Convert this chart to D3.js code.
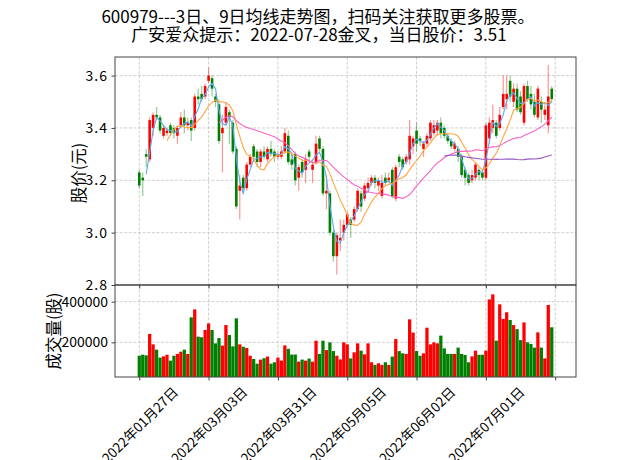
<!DOCTYPE html>
<html><head><meta charset="utf-8">
<script src="https://cdn.jsdelivr.net/npm/d3@7"></script>
<style>
body{margin:0;background:#fff;}
svg text{font-family:"Noto Sans CJK SC","DejaVu Sans",sans-serif;fill:#000;}
</style>
</head><body>
<svg id="c" width="640" height="460"></svg>
<script>
// ---------- data ----------
const titleLines = ["600979---3日、9日均线走势图，扫码关注获取更多股票。", "广安爱众提示：2022-07-28金叉，当日股价：3.51"];
const priceLabel = "股价(元)";
const volumeLabel = "成交量(股)";
const tickIndex = [0, 20, 40, 60, 80, 100, 120];
const tickLabels = ["2022年01月27日", "2022年03月03日", "2022年03月31日", "2022年05月05日", "2022年06月02日", "2022年07月01日", ""];
const priceTicks = [2.8, 3.0, 3.2, 3.4, 3.6];
const volumeTicks = [200000, 400000];
const maWindows = [3, 9, 24, 89];
const maColors = ["#5aaaf2", "#ffa53f", "#f564c4", "#9458c2"];

const opens = [3.23,3.21,3.30,3.28,3.40,3.45,3.44,3.37,3.38,3.41,3.40,3.37,3.41,3.44,3.41,3.43,3.40,3.52,3.53,3.52,
3.58,3.59,3.52,3.49,3.38,3.42,3.46,3.42,3.32,3.16,3.21,3.17,3.26,3.33,3.31,3.27,3.31,3.28,3.32,3.31,
3.29,3.29,3.31,3.37,3.28,3.30,3.21,3.27,3.24,3.31,3.24,3.27,3.36,3.32,3.15,3.15,3.00,2.91,2.97,3.00,
3.03,3.05,3.05,3.09,3.15,3.13,3.17,3.19,3.21,3.18,3.14,3.21,3.20,3.24,3.13,3.29,3.28,3.27,3.28,3.33,
3.39,3.36,3.32,3.34,3.36,3.38,3.39,3.42,3.40,3.37,3.35,3.32,3.32,3.29,3.24,3.22,3.20,3.21,3.24,3.23,
3.21,3.36,3.40,3.42,3.40,3.48,3.51,3.58,3.50,3.55,3.52,3.42,3.56,3.53,3.50,3.44,3.50,3.45,3.41,3.55];
const highs = [3.24,3.23,3.32,3.44,3.46,3.48,3.45,3.41,3.40,3.42,3.41,3.41,3.46,3.47,3.44,3.44,3.53,3.55,3.56,3.57,
3.63,3.60,3.53,3.51,3.45,3.50,3.47,3.43,3.33,3.22,3.22,3.27,3.30,3.34,3.32,3.32,3.33,3.33,3.35,3.32,
3.31,3.33,3.40,3.39,3.30,3.31,3.26,3.28,3.30,3.32,3.28,3.37,3.37,3.33,3.22,3.16,3.01,3.00,3.05,3.05,
3.08,3.06,3.10,3.17,3.16,3.19,3.21,3.22,3.22,3.21,3.22,3.23,3.23,3.25,3.26,3.30,3.29,3.30,3.43,3.37,
3.42,3.37,3.35,3.38,3.43,3.43,3.43,3.44,3.41,3.38,3.36,3.35,3.33,3.30,3.25,3.23,3.24,3.27,3.25,3.24,
3.42,3.44,3.49,3.43,3.48,3.60,3.60,3.60,3.57,3.57,3.54,3.57,3.58,3.56,3.53,3.56,3.52,3.49,3.64,3.56];
const lows = [3.17,3.14,3.25,3.27,3.37,3.43,3.38,3.36,3.37,3.37,3.36,3.34,3.40,3.38,3.39,3.35,3.39,3.49,3.50,3.51,
3.57,3.52,3.48,3.34,3.23,3.41,3.34,3.30,3.09,3.05,3.15,3.16,3.25,3.27,3.25,3.25,3.28,3.27,3.29,3.27,
3.28,3.28,3.30,3.26,3.24,3.18,3.16,3.21,3.19,3.27,3.19,3.26,3.31,3.14,3.09,2.99,2.89,2.84,2.93,2.97,
3.02,2.98,3.04,3.08,3.08,3.12,3.16,3.18,3.17,3.16,3.13,3.18,3.19,3.13,3.12,3.25,3.24,3.26,3.26,3.30,
3.31,3.33,3.29,3.33,3.35,3.37,3.37,3.36,3.36,3.34,3.32,3.31,3.27,3.21,3.18,3.18,3.19,3.20,3.20,3.20,
3.20,3.34,3.38,3.36,3.39,3.47,3.47,3.50,3.48,3.46,3.45,3.41,3.50,3.47,3.44,3.43,3.42,3.43,3.38,3.50];
const closes = [3.18,3.20,3.29,3.43,3.45,3.44,3.39,3.40,3.39,3.38,3.38,3.40,3.44,3.41,3.42,3.39,3.52,3.51,3.51,3.56,
3.60,3.55,3.50,3.35,3.40,3.48,3.44,3.31,3.10,3.18,3.17,3.26,3.29,3.29,3.27,3.31,3.29,3.32,3.30,3.29,
3.30,3.31,3.38,3.27,3.26,3.20,3.25,3.23,3.28,3.29,3.26,3.34,3.32,3.15,3.16,3.00,2.91,2.99,2.98,3.03,
3.07,3.03,3.09,3.16,3.10,3.18,3.19,3.21,3.19,3.20,3.19,3.19,3.21,3.14,3.25,3.27,3.25,3.29,3.37,3.36,
3.34,3.35,3.34,3.37,3.42,3.41,3.42,3.38,3.37,3.35,3.33,3.34,3.29,3.22,3.21,3.19,3.22,3.26,3.22,3.21,
3.41,3.42,3.43,3.37,3.45,3.53,3.53,3.52,3.55,3.47,3.46,3.56,3.51,3.49,3.45,3.55,3.47,3.47,3.52,3.51];
const volumes = [134000,139000,136000,241000,190000,164000,125000,131000,139000,110000,134000,143000,154000,164000,143000,323000,362000,228000,225000,261000,
293000,261000,195000,221000,184000,285000,236000,180000,318000,190000,178000,172000,134000,118000,95000,115000,122000,130000,95000,102000,
125000,110000,185000,168000,140000,140000,105000,115000,110000,120000,105000,208000,143000,208000,162000,200000,157000,134000,116000,200000,
190000,121000,151000,195000,159000,141000,195000,102000,89000,97000,89000,102000,89000,130000,216000,157000,146000,143000,313000,248000,
157000,134000,146000,272000,190000,200000,195000,233000,170000,143000,143000,143000,174000,143000,138000,102000,131000,159000,139000,139000,
159000,411000,436000,208000,387000,315000,348000,310000,285000,265000,211000,298000,200000,192000,174000,249000,174000,121000,384000,274000];

// ---------- layout ----------
const L = 115, R = 576, PT = 57, PB = 285, VB = 377;
const svg = d3.select('#c');
const x = d3.scaleLinear().domain([-7, 126]).range([L, R]);
const yP = d3.scaleLinear().domain([2.8, 3.671]).range([PB, PT]);
const yV = d3.scaleLinear().domain([29500, 482000]).range([VB, PB]);
const step = x(1) - x(0);
const UP = "#ff0000", DN = "#008000";
const gridStyle = g => g.attr('stroke', '#c4c4c4').attr('stroke-width', 0.8).attr('stroke-dasharray', '3,1.6');

// title
svg.append('text').attr('x', 318).attr('y', 23).attr('text-anchor', 'middle').attr('font-size', 17).text(titleLines[0]);
svg.append('text').attr('x', 319).attr('y', 41).attr('text-anchor', 'middle').attr('font-size', 17).text(titleLines[1]);

// grids
const grid = svg.append('g');
tickIndex.forEach(t => {
  grid.append('line').attr('x1', x(t)).attr('x2', x(t)).attr('y1', PT).attr('y2', PB).call(gridStyle);
  grid.append('line').attr('x1', x(t)).attr('x2', x(t)).attr('y1', PB).attr('y2', VB).call(gridStyle);
});
priceTicks.forEach(v => grid.append('line').attr('x1', L).attr('x2', R).attr('y1', yP(v)).attr('y2', yP(v)).call(gridStyle));
volumeTicks.forEach(v => grid.append('line').attr('x1', L).attr('x2', R).attr('y1', yV(v)).attr('y2', yV(v)).call(gridStyle));

// clip
const defs = svg.append('defs');
defs.append('clipPath').attr('id', 'cp').append('rect').attr('x', L).attr('y', PT).attr('width', R - L).attr('height', PB - PT);
defs.append('clipPath').attr('id', 'cv').append('rect').attr('x', L).attr('y', PB).attr('width', R - L).attr('height', VB - PB);

const idx = d3.range(closes.length);
const col = i => closes[i] >= opens[i] ? UP : DN;

// volume bars
svg.append('g').attr('clip-path', 'url(#cv)').selectAll('rect').data(idx).join('rect')
  .attr('x', i => x(i) - step * 0.47).attr('width', step * 0.94)
  .attr('y', i => yV(volumes[i])).attr('height', i => VB - yV(volumes[i]))
  .attr('fill', col);

// candles
const cg = svg.append('g').attr('clip-path', 'url(#cp)');
cg.selectAll('line').data(idx).join('line')
  .attr('x1', i => x(i)).attr('x2', i => x(i))
  .attr('y1', i => yP(highs[i])).attr('y2', i => yP(lows[i]))
  .attr('stroke', col).attr('stroke-opacity', 0.42).attr('stroke-width', 1.2);
cg.selectAll('rect').data(idx).join('rect')
  .attr('x', i => x(i) - 1.3).attr('width', 2.6)
  .attr('y', i => yP(Math.max(opens[i], closes[i])))
  .attr('height', i => Math.max(1, Math.abs(yP(opens[i]) - yP(closes[i]))))
  .attr('fill', col);

// moving averages of the closes
const rolling = w => closes.map((_, i) => i < w - 1 ? null : d3.mean(closes.slice(i - w + 1, i + 1)));
const lineGen = d3.line().defined(d => d[1] != null).x(d => x(d[0])).y(d => yP(d[1]));
maWindows.forEach((w, k) => {
  const vals = rolling(w).map((v, i) => [i, v]);
  cg.append('path').attr('d', lineGen(vals)).attr('fill', 'none').attr('stroke', maColors[k]).attr('stroke-width', 1.1);
});

// frames
svg.append('rect').attr('x', L).attr('y', PT).attr('width', R - L).attr('height', PB - PT).attr('fill', 'none').attr('stroke', '#444').attr('stroke-width', 1);
svg.append('rect').attr('x', L).attr('y', PB).attr('width', R - L).attr('height', VB - PB).attr('fill', 'none').attr('stroke', '#444').attr('stroke-width', 1);

// axes
const axP = svg.append('g').attr('transform', `translate(${L},0)`)
  .call(d3.axisLeft(yP).tickValues(priceTicks).tickFormat(d3.format('.1f')).tickSize(3.5).tickPadding(3.5));
const axV = svg.append('g').attr('transform', `translate(${L},0)`)
  .call(d3.axisLeft(yV).tickValues(volumeTicks).tickFormat(d3.format('d')).tickSize(3.5).tickPadding(3.5));
const axX1 = svg.append('g').attr('transform', `translate(0,${PB})`)
  .call(d3.axisBottom(x).tickValues(tickIndex).tickFormat('').tickSize(3.5));
const axX2 = svg.append('g').attr('transform', `translate(0,${VB})`)
  .call(d3.axisBottom(x).tickValues(tickIndex).tickFormat('').tickSize(3.5));
[axP, axV, axX1, axX2].forEach(a => {
  a.select('.domain').remove();
  a.selectAll('line').attr('stroke', '#444');
  a.selectAll('text').attr('font-size', 14).attr('font-family', '"Noto Sans CJK SC","DejaVu Sans",sans-serif').attr('fill', '#000');
});
axP.selectAll('text').attr('letter-spacing', 1);

// rotated date labels
const lab = svg.append('g');
tickIndex.forEach((t, k) => {
  if (!tickLabels[k]) return;
  const fs = 13.5;
  const tx = lab.append('text').attr('font-size', fs).attr('text-anchor', 'middle').attr('dominant-baseline', 'central').text(tickLabels[k]);
  const len = tx.node().getComputedTextLength();
  const half = (len + fs) * Math.SQRT1_2 / 2;
  tx.attr('transform', `translate(${x(t)},${VB + 7 + half}) rotate(-45)`);
});

// axis titles
svg.append('text').attr('transform', `translate(78,${(PT + PB) / 2 + 2}) rotate(-90)`).attr('text-anchor', 'middle').attr('dominant-baseline', 'central').attr('font-size', 16.5).text(priceLabel);
svg.append('text').attr('transform', `translate(53,${(PB + VB) / 2}) rotate(-90)`).attr('text-anchor', 'middle').attr('dominant-baseline', 'central').attr('font-size', 16.5).text(volumeLabel);
</script>
</body></html>
